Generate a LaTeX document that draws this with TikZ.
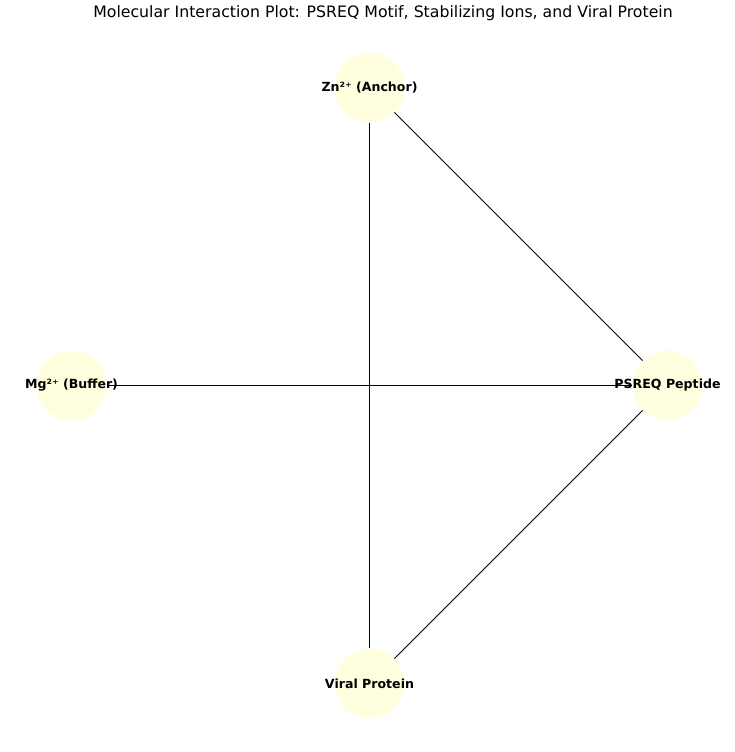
\documentclass[tikz,border=0pt]{standalone}
\usepackage{fontspec}
\setmainfont{DejaVu Sans}
\definecolor{nodefill}{HTML}{FFFFE0}
\tikzset{
  mol/.style={circle, fill=nodefill, minimum size=50.4pt, inner sep=0pt},
  lbl/.style={font=\bfseries\fontsize{9.05pt}{11pt}\selectfont, inner sep=0pt},
  edge/.style={draw=black, line width=0.7pt}
}
\begin{document}
\begin{tikzpicture}[x=0.72pt, y=-0.72pt]
\useasboundingbox (0,0) rectangle (735,752);
\node[font=\fontsize{11.33pt}{13pt}\selectfont, inner sep=0pt] (title) at (383,13.5) {Molecular Interaction Plot: PSREQ Motif, Stabilizing Ions, and Viral Protein};
\node[mol] (zn) at (369.5,87.5) {};
\node[mol] (mg) at (71.5,385.5) {};
\node[mol] (ps) at (667.5,385.5) {};
\node[mol] (vp) at (369.5,683.5) {};
\draw[edge] (zn) -- (ps);
\draw[edge] (zn) -- (vp);
\draw[edge] (mg) -- (ps);
\draw[edge] (ps) -- (vp);
\node[lbl] (znl) at (369.5,87.5) {Zn²⁺ (Anchor)};
\node[lbl] (mgl) at (71.5,385.5) {Mg²⁺ (Buffer)};
\node[lbl] (psl) at (667.5,385.5) {PSREQ Peptide};
\node[lbl] (vpl) at (369.5,683.5) {Viral Protein};
\end{tikzpicture}
\end{document}
